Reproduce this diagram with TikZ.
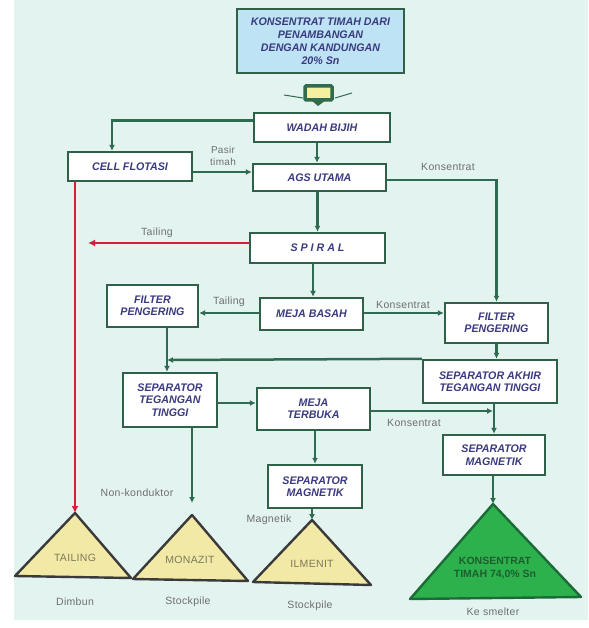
\documentclass[tikz,border=0pt]{standalone}
\usepackage{fontspec}
\setmainfont{Liberation Sans}
\newfontfamily\boxfont[FakeStretch=0.97]{Liberation Sans}
\newfontfamily\lblfont[LetterSpace=3]{Liberation Sans}
\usetikzlibrary{arrows.meta,calc}
\definecolor{mint}{HTML}{E3F4F0}
\definecolor{bordc}{HTML}{2E6148}
\definecolor{connc}{HTML}{2E6B50}
\definecolor{redc}{HTML}{D0203A}
\definecolor{lblc}{HTML}{6E6E6E}
\definecolor{boxtext}{HTML}{3A3A80}
\definecolor{topfill}{HTML}{BDE3F4}
\definecolor{yelfill}{HTML}{F3E9A6}
\definecolor{triedge}{HTML}{3A3A3A}
\definecolor{grfill}{HTML}{2DB14C}
\definecolor{gredge}{HTML}{1B6B36}
\definecolor{grtext}{HTML}{1D5E2E}
\definecolor{tritext}{HTML}{7A7A5A}
\definecolor{hopy}{HTML}{F4F0A0}
\begin{document}
\begin{tikzpicture}[x=1pt,y=-1pt,
  flowbox/.style={draw=bordc, fill=white, line width=2.4pt,
    font=\boxfont\bfseries\itshape\fontsize{11}{12.5}\selectfont,
    text=boxtext, align=center, inner sep=0pt},
  conn/.style={draw=connc, line width=2.5pt, -{Latex[length=6pt,width=6pt]}},
  plainconn/.style={draw=connc, line width=2.5pt},
  redconn/.style={draw=redc, line width=2.5pt, -{Latex[length=7pt,width=7pt]}},
  lbl/.style={text=lblc, font=\lblfont\fontsize{10.5}{12}\selectfont, inner sep=0pt, align=center},
  pile/.style={draw=triedge, fill=yelfill, line width=2.4pt, line join=round},
  piletxt/.style={text=tritext, font=\lblfont\fontsize{10.5}{12}\selectfont, inner sep=0pt},
  hopwing/.style={draw=connc, line width=1pt}
]
\useasboundingbox (0,0) rectangle (588,628);
\fill[mint] (14,0) rectangle (588,620);

% top box
\node[flowbox, fill=topfill, minimum width=167pt, minimum height=64pt,
  font=\boxfont\bfseries\itshape\fontsize{11}{13}\selectfont] (top) at (320.5,41)
  {KONSENTRAT TIMAH DARI\\PENAMBANGAN\\DENGAN KANDUNGAN\\20\% Sn};

% hopper
\draw[hopwing] (284,95) -- (303,98);
\draw[hopwing] (335,98) -- (352,93);
\draw[draw=connc, fill=hopy, line width=3.5pt, rounded corners=1pt] (305,86) rectangle (332,100);
\fill[connc] (311,100) -- (318,106) -- (326,100) -- cycle;

% boxes
\node[flowbox, minimum width=136pt, minimum height=29pt] (wadah) at (322,127.5) {WADAH BIJIH};
\node[flowbox, minimum width=124pt, minimum height=29pt] (cell) at (130,166.5) {CELL FLOTASI};
\node[flowbox, minimum width=133pt, minimum height=27pt] (ags) at (319.5,177.5) {AGS UTAMA};
\node[flowbox, minimum width=135pt, minimum height=30pt] (spiral) at (317.5,248) {S P I R A L};
\node[flowbox, minimum width=91pt, minimum height=42pt] (filterL) at (152.5,306) {FILTER\\PENGERING};
\node[flowbox, minimum width=103pt, minimum height=32pt] (mejabasah) at (311.5,314) {MEJA BASAH};
\node[flowbox, minimum width=103pt, minimum height=40pt] (filterR) at (496.5,323) {FILTER\\PENGERING};
\node[flowbox, minimum width=134pt, minimum height=43pt] (sepakhir) at (490,381.5) {SEPARATOR AKHIR\\TEGANGAN TINGGI};
\node[flowbox, minimum width=94pt, minimum height=54pt] (septeg) at (170,400) {SEPARATOR\\TEGANGAN\\TINGGI};
\node[flowbox, minimum width=113pt, minimum height=42pt] (mejaterbuka) at (313.5,409) {MEJA\\TERBUKA};
\node[flowbox, minimum width=102pt, minimum height=40pt] (sepmagR) at (494,455) {SEPARATOR\\MAGNETIK};
\node[flowbox, minimum width=94pt, minimum height=43pt] (sepmagM) at (315,486.5) {SEPARATOR\\MAGNETIK};

% piles
\coordinate (tailtop) at (75,513);
\coordinate (monatop) at (192,515);
\coordinate (ilmtop) at (312,520);
\coordinate (kontop) at (493,504);
\draw[pile] (tailtop) -- (131,578) -- (15,576) -- cycle;
\draw[pile] (monatop) -- (248,581) -- (133,579) -- cycle;
\draw[pile] (ilmtop) -- (371,585) -- (253,582) -- cycle;
\draw[draw=gredge, fill=grfill, line width=2.4pt, line join=round] (kontop) -- (581,597) -- (410,599) -- cycle;
\node[piletxt] (tailtxt) at (75,558) {TAILING};
\node[piletxt] (monatxt) at (190,560) {MONAZIT};
\node[piletxt] (ilmtxt) at (312,564) {ILMENIT};
\node[text=grtext, font=\fontsize{10.5}{13}\selectfont\bfseries, align=center, inner sep=0pt] (kontxt) at (495,568) {KONSENTRAT\\TIMAH 74,0\% Sn};

% labels under piles
\node[lbl] (dimbun) at (75,602) {Dimbun};
\node[lbl] (stock1) at (188,602) {Stockpile};
\node[lbl] (stock2) at (310,606) {Stockpile};
\node[lbl] (smelter) at (493,612) {Ke smelter};

% connectors
\draw[conn] ([yshift=7pt]wadah.west) -| ([xshift=-18pt]cell.north);
\draw[conn] ([xshift=-5pt]wadah.south) -- ([xshift=-5pt]wadah.south |- ags.north);
\draw[conn] ([yshift=-5.5pt]cell.east) -- ([yshift=-5.5pt]cell.east -| ags.west);
\draw[conn] ([yshift=-2.5pt]ags.east) -| (filterR.north);
\draw[conn] (spiral.north |- ags.south) -- (spiral.north);
\coordinate (redend) at (88,243);
\draw[redconn] ([yshift=5pt]spiral.west) -- (redend);
\draw[redconn] (cell.south -| tailtop) -- (tailtop);
\draw[conn] ([xshift=1.5pt]mejabasah.north |- spiral.south) -- ([xshift=1.5pt]mejabasah.north);
\draw[conn] ([yshift=1pt]mejabasah.west) -- ([yshift=1pt]mejabasah.west -| filterL.east);
\draw[conn] ([yshift=1pt]mejabasah.east) -- ([yshift=1pt]mejabasah.east -| filterR.west);
\draw[conn] (filterR.south) -- (filterR.south |- sepakhir.north);
\coordinate (junc) at (167,360);
\draw[plainconn] (junc |- filterL.south) -- (junc);
\draw[conn] (junc) -- (junc |- septeg.north);
\draw[conn] (sepakhir.north west) -- (junc);
\draw[conn] ([yshift=-3pt]septeg.east) -- ([yshift=-3pt]septeg.east -| mejaterbuka.west);
\draw[conn] ([yshift=-2pt]mejaterbuka.east) -- ([yshift=-2pt,xshift=-1pt]mejaterbuka.east -| sepmagR.north);
\draw[conn] (sepmagR.north |- sepakhir.south) -- (sepmagR.north);
\draw[conn] (monatop |- septeg.south) -- ([yshift=12pt]monatop);
\draw[conn] (sepmagM.north |- mejaterbuka.south) -- (sepmagM.north);
\draw[conn] (ilmtop |- sepmagM.south) -- (ilmtop);
\draw[conn] (kontop |- sepmagR.south) -- (kontop);

% connector labels
\node[lbl, font=\lblfont\fontsize{10}{12}\selectfont] (pasir) at (223,156) {Pasir\\timah};
\node[lbl] (konsen1) at (448,167) {Konsentrat};
\node[lbl] (tail1) at (157,233) {Tailing};
\node[lbl] (tail2) at (229,302) {Tailing};
\node[lbl] (konsen2) at (403,305) {Konsentrat};
\node[lbl] (konsen3) at (414,423) {Konsentrat};
\node[lbl] (nonkond) at (137,493) {Non-konduktor};
\node[lbl] (magnetik) at (269,520) {Magnetik};
\end{tikzpicture}
\end{document}
